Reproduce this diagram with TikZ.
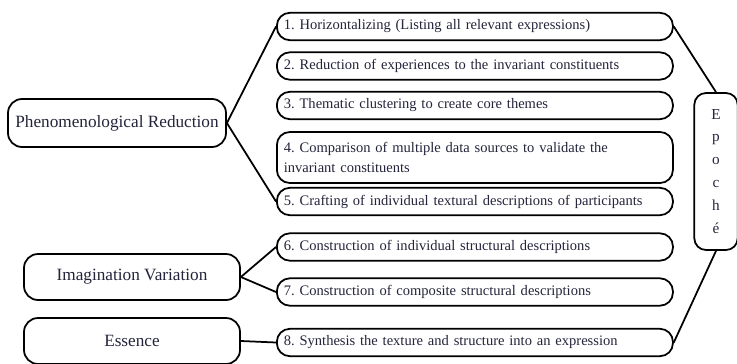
\documentclass[tikz,border=0pt]{standalone}
\usepackage{fontspec}
\setmainfont{Liberation Serif}
\usetikzlibrary{positioning}
\definecolor{inkblue}{HTML}{23233A}
\frenchspacing

\begin{document}
\begin{tikzpicture}[x=0.03cm,y=-0.03cm,stage/.style={draw,line width=1.5pt,rounded corners=12pt,minimum width=6.48cm,minimum height=1.38cm,text=inkblue,font=\fontsize{14.7}{17}\selectfont},stepbox/.style={draw,line width=1.5pt,rounded corners=11pt,minimum height=0.82cm,anchor=west,text width=11.46cm,inner xsep=0.21cm,align=left,text=inkblue,font=\fontsize{12.4}{16.8}\selectfont},link/.style={line width=1.5pt}]
  \useasboundingbox (0,0) rectangle (737,363);
  \node[stage,minimum width=6.54cm,minimum height=1.44cm] (reduction) at (117,123) {Phenomenological Reduction};
  \node[stage] (imagination) at (132,277) {Imagination Variation};
  \node[stage] (essence) at (132,341) {Essence};
  \node[stepbox] (s1) at (276,26.5) {1. Horizontalizing (Listing all relevant expressions)};
  \node[stepbox] (s2) at (276,66) {2. Reduction of experiences to the invariant constituents};
  \node[stepbox] (s3) at (276,105.5) {3. Thematic clustering to create core themes};
  \node[stepbox,minimum height=1.53cm] (s4) at (276,157.5) {4. Comparison of multiple data sources to validate the\\invariant constituents};
  \node[stepbox] (s5) at (276,201.5) {5. Crafting of individual textural descriptions of participants};
  \node[stepbox] (s6) at (276,247) {6. Construction of individual structural descriptions};
  \node[stepbox] (s7) at (276,292) {7. Construction of composite structural descriptions};
  \node[stepbox] (s8) at (276,342.5) {8. Synthesis the texture and structure into an expression};
  \node[draw,line width=1.5pt,rounded corners=10pt,minimum width=1.3cm,minimum height=4.71cm,align=center,text=inkblue,font=\fontsize{13}{19.6}\selectfont] (epoche) at (716,171.5) {E\\p\\o\\c\\h\\é};
  \draw[link] (reduction.east) -- (s1.west);
  \draw[link] (reduction.east) -- (s5.west);
  \draw[link] (imagination.east) -- (s6.west);
  \draw[link] (imagination.east) -- (s7.west);
  \draw[link] (essence.east) -- (s8.west);
  \draw[link] (s1.east) -- (epoche.north);
  \draw[link] (s8.east) -- (epoche.south);
\end{tikzpicture}
\end{document}
